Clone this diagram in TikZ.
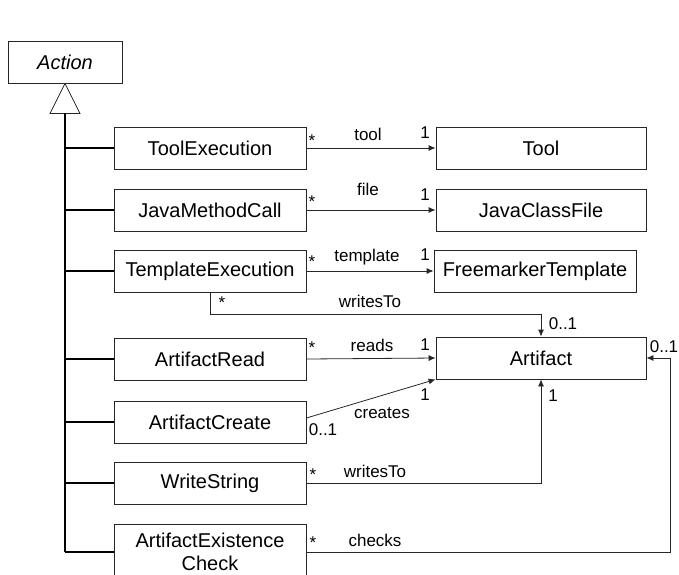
\documentclass[tikz,border=0pt]{standalone}
\usepackage{fontspec}
\setmainfont{Liberation Sans}
\usetikzlibrary{arrows.meta}
\begin{document}
\begin{tikzpicture}[x=1pt,y=-1pt,
  cls/.style={draw=black!85, line width=0.8pt, minimum height=42pt, inner sep=0pt,
    font=\fontsize{20}{23}\selectfont, text=black, align=center},
  leftcls/.style={cls, minimum width=192pt},
  rightcls/.style={cls, minimum width=210pt},
  assoc/.style={draw=black!85, line width=0.8pt, -{Latex[length=7pt,width=6pt]}},
  gen/.style={draw=black, line width=1.2pt},
  lbl/.style={font=\fontsize{17}{19}\selectfont, inner sep=0pt, text=black},
]
\useasboundingbox (0,0) rectangle (679,574);
\clip (0,0) rectangle (679,574);

% abstract superclass
\node[cls, minimum width=114pt] (act) at (65,62) {\itshape Action};

% subclasses
\node[leftcls] (toolex)  at (210,148) {ToolExecution};
\node[leftcls] (jmc)     at (210,210) {JavaMethodCall};
\node[leftcls] (tmpl)    at (210,271) {TemplateExecution};
\node[leftcls] (aread)   at (210,359) {ArtifactRead};
\node[leftcls] (acreate) at (210,422) {ArtifactCreate};
\node[leftcls] (wstr)    at (210,483) {WriteString};
\node[leftcls, minimum height=56pt] (aec) at (210,552) {ArtifactExistence\\Check};

% associated classes
\node[rightcls] (tool) at (541,148) {Tool};
\node[rightcls] (jcf)  at (541,210) {JavaClassFile};
\node[cls, minimum width=202pt] (fmt) at (535,271) {FreemarkerTemplate};
\node[rightcls] (art)  at (541,358) {Artifact};

% generalization tree
\path (act.south) ++(0,30) coordinate (tri);
\draw[draw=black!85, line width=0.8pt, fill=white]
  (act.south) -- ([xshift=-15pt]tri) -- ([xshift=15pt]tri) -- cycle;
\draw[gen] (tri) -- (tri |- aec.west);
\foreach \n in {toolex,jmc,tmpl,aread,acreate,wstr,aec}
  \draw[gen] (tri |- \n.west) -- (\n.west);

% associations
\draw[assoc] (toolex.east) -- (tool.west);
\draw[assoc] (jmc.east) -- (jcf.west);
\draw[assoc] (tmpl.east) -- (fmt.west);
\draw[assoc] (tmpl.south) -- ++(0,22) -| (art.north);
\draw[assoc] (aread.east) -- (art.west);
\draw[assoc] ([yshift=4pt]acreate.east) -- (art.south west);
\draw[assoc] (wstr.east) -| (art.south);
\coordinate (chk) at ([xshift=24pt]art.east);
\draw[assoc] (aec.east) -| (chk) -- (art.east);

% role names and multiplicities
\node[lbl] (m1a) at (312,141) {*};
\node[lbl] (r1)  at (368,134) {tool};
\node[lbl] (m1b) at (425,133) {1};

\node[lbl] (m2a) at (312,202) {*};
\node[lbl] (r2)  at (368,189) {file};
\node[lbl] (m2b) at (425,195) {1};

\node[lbl] (m3a) at (312,262) {*};
\node[lbl] (r3)  at (367,257) {template};
\node[lbl] (m3b) at (425,255) {1};

\node[lbl] (m4a) at (222,303) {*};
\node[lbl] (r4)  at (370,301) {writesTo};
\node[lbl] (m4b) at (563,324) {0..1};

\node[lbl] (m5a) at (312,348) {*};
\node[lbl] (r5)  at (372,345) {reads};
\node[lbl] (m5b) at (425,345) {1};

\node[lbl] (m6a) at (323,430) {0..1};
\node[lbl] (r6)  at (382,413) {creates};
\node[lbl] (m6b) at (425,395) {1};

\node[lbl] (m7a) at (313,475) {*};
\node[lbl] (r7)  at (375,471) {writesTo};
\node[lbl] (m7b) at (553,396) {1};

\node[lbl] (m8a) at (313,543) {*};
\node[lbl] (r8)  at (375,540) {checks};
\node[lbl] (m8b) at (664,347) {0..1};
\end{tikzpicture}
\end{document}
